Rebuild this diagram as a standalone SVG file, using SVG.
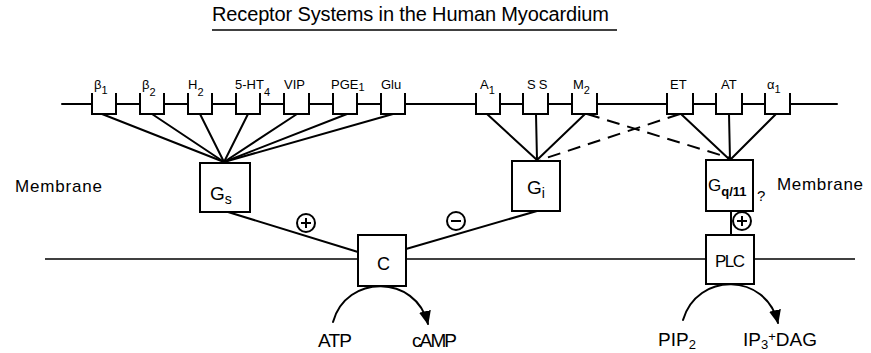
<svg xmlns="http://www.w3.org/2000/svg" width="871" height="353" viewBox="0 0 871 353">
<defs>
<style>
.t{font-family:"Liberation Sans",Arial,sans-serif;fill:#000}
.rl{font-size:13px}
.sub{font-size:11px}
.ln{stroke:#000;stroke-width:2;fill:none;stroke-linecap:round}
.dash{stroke:#000;stroke-width:2;fill:none;stroke-dasharray:13 8}
.box{fill:#fff;stroke:#000;stroke-width:2}
.rec{fill:#fff;stroke:#000;stroke-width:2;stroke-linejoin:miter}
.circ{fill:#fff;stroke:#000;stroke-width:2}
</style>
<marker id="ah" markerUnits="userSpaceOnUse" markerWidth="14" markerHeight="12" viewBox="0 0 14 12" refX="13" refY="6" orient="auto">
<path d="M0,0 L14,6 L0,12 Z" fill="#000"/>
</marker>
</defs>
<rect width="871" height="353" fill="#fff"/>

<g id="title">
<text class="t" x="212" y="21" font-size="20" textLength="397">Receptor Systems in the Human Myocardium</text>
<line x1="212" y1="30" x2="617" y2="30" stroke="#000" stroke-width="1.6"/>
</g>

<g id="membranes">
<line x1="62" y1="104" x2="837" y2="104" class="ln"/>
<line x1="45" y1="259" x2="855" y2="259" stroke="#000" stroke-width="1.6"/>
<text class="t" x="15" y="192" font-size="17" textLength="87">Membrane</text>
<text class="t" x="777" y="190" font-size="17" textLength="86">Membrane</text>
</g>

<g id="connectors">
<line class="ln" x1="102" y1="114" x2="224" y2="162"/>
<line class="ln" x1="152" y1="114" x2="224" y2="162"/>
<line class="ln" x1="200" y1="114" x2="224" y2="162"/>
<line class="ln" x1="248" y1="114" x2="224" y2="162"/>
<line class="ln" x1="297" y1="114" x2="224" y2="162"/>
<line class="ln" x1="347" y1="114" x2="224" y2="162"/>
<line class="ln" x1="393" y1="114" x2="224" y2="162"/>
<line class="ln" x1="487" y1="114" x2="537" y2="160"/>
<line class="ln" x1="536" y1="114" x2="537" y2="160"/>
<line class="ln" x1="585" y1="114" x2="537" y2="160"/>
<line class="dash" x1="680" y1="114" x2="540" y2="160"/>
<line class="dash" x1="587" y1="114" x2="730" y2="158"/>
<line class="ln" x1="681" y1="114" x2="730" y2="160"/>
<line class="ln" x1="729" y1="114" x2="730" y2="160"/>
<line class="ln" x1="776" y1="114" x2="730" y2="160"/>
<line class="ln" x1="228" y1="212" x2="358" y2="252"/>
<line class="ln" x1="406" y1="249" x2="537" y2="211"/>
<line class="ln" x1="731" y1="211" x2="731" y2="235"/>
<path class="ln" d="M333,322 C346,274 416,274 428,324" marker-end="url(#ah)"/>
<path class="ln" d="M683,320 C697,272 766,272 778,323" marker-end="url(#ah)"/>
</g>

<g id="r-b1"><path class="rec" d="M92,93 V114 H116 V93"/><text class="t rl" x="94" y="89">β<tspan class="sub" dy="5">1</tspan></text></g>
<g id="r-b2"><path class="rec" d="M140,93 V114 H164 V93"/><text class="t rl" x="142" y="89">β<tspan class="sub" dy="7">2</tspan></text></g>
<g id="r-h2"><path class="rec" d="M188,93 V114 H212 V93"/><text class="t rl" x="188" y="89">H<tspan class="sub" dy="7">2</tspan></text></g>
<g id="r-5ht4"><path class="rec" d="M236,93 V114 H260 V93"/><text class="t rl" x="235" y="89">5-HT<tspan class="sub" dy="7">4</tspan></text></g>
<g id="r-vip"><path class="rec" d="M284,93 V114 H309 V93"/><text class="t rl" x="284" y="89">VIP</text></g>
<g id="r-pge1"><path class="rec" d="M333,93 V114 H357 V93"/><text class="t rl" x="331" y="89">PGE<tspan class="sub" dy="2">1</tspan></text></g>
<g id="r-glu"><path class="rec" d="M381,93 V114 H405 V93"/><text class="t rl" x="381" y="89">Glu</text></g>
<g id="r-a1"><path class="rec" d="M476,93 V114 H500 V93"/><text class="t rl" x="480" y="89">A<tspan class="sub" dy="5">1</tspan></text></g>
<g id="r-ss"><path class="rec" d="M523,93 V114 H548 V93"/><text class="t rl" x="527" y="89" letter-spacing="3">SS</text></g>
<g id="r-m2"><path class="rec" d="M572,93 V114 H597 V93"/><text class="t rl" x="573" y="89">M<tspan class="sub" dy="5">2</tspan></text></g>
<g id="r-et"><path class="rec" d="M667,93 V114 H693 V93"/><text class="t rl" x="670" y="89">ET</text></g>
<g id="r-at"><path class="rec" d="M716,93 V114 H742 V93"/><text class="t rl" x="721" y="89">AT</text></g>
<g id="r-a1b"><path class="rec" d="M765,93 V114 H790 V93"/><text class="t rl" x="767" y="89">α<tspan class="sub" dy="4">1</tspan></text></g>

<g id="gs"><rect class="box" x="200" y="163" width="50" height="49"/><text class="t" x="210" y="200" font-size="19">G<tspan font-size="14" dy="4">s</tspan></text></g>
<g id="gi"><rect class="box" x="512" y="161" width="48" height="50"/><text class="t" x="527" y="194" font-size="19">G<tspan font-size="14" dy="4">i</tspan></text></g>
<g id="gq"><rect class="box" x="706" y="160" width="47" height="51"/><text class="t" x="708" y="191" font-size="17">G<tspan font-size="13" font-weight="bold" dy="5">q/11</tspan></text><text class="t" x="757" y="201" font-size="15">?</text></g>

<g id="plus1"><circle class="circ" cx="306" cy="223" r="9"/><path d="M301,223 H311 M306,218 V228" stroke="#000" stroke-width="2"/></g>
<g id="minus"><circle class="circ" cx="456" cy="221" r="9"/><path d="M451,221 H461" stroke="#000" stroke-width="2"/></g>
<g id="plus2"><circle class="circ" cx="742" cy="221" r="9"/><path d="M737,221 H747 M742,216 V226" stroke="#000" stroke-width="2"/></g>

<g id="c"><rect class="box" x="358" y="235" width="48" height="51"/><text class="t" x="377" y="270" font-size="18">C</text></g>
<g id="plc"><rect class="box" x="706" y="235" width="48" height="49"/><text class="t" x="715" y="267" font-size="17" textLength="30">PLC</text></g>

<g id="labels">
<text class="t" x="318" y="347" font-size="19" textLength="34">ATP</text>
<text class="t" x="412" y="347" font-size="19" textLength="45">cAMP</text>
<text class="t" x="658" y="346" font-size="19">PIP<tspan font-size="13" dy="3">2</tspan></text>
<text class="t" x="743" y="346" font-size="19">IP<tspan font-size="13" dy="3">3</tspan><tspan font-size="13" dy="-8">+</tspan><tspan dy="5">DAG</tspan></text>
</g>
</svg>
